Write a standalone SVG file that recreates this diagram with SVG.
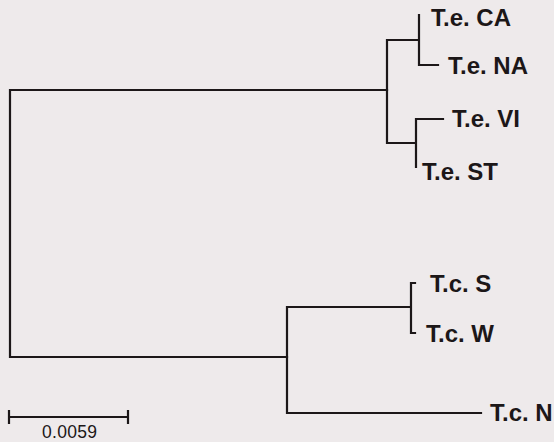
<svg xmlns="http://www.w3.org/2000/svg" width="554" height="442" viewBox="0 0 554 442">
<style>
.ln{fill:none;stroke:#1c1718;stroke-width:2.2;stroke-linecap:square}
.lb{font-family:"Liberation Sans",Arial,sans-serif;font-weight:bold;font-size:24px;fill:#1c1718}
.sc{font-family:"Liberation Sans",Arial,sans-serif;font-size:17.5px;fill:#1c1718}
</style>
<rect width="554" height="442" fill="#eeeaeb"/>
<g id="connectors" class="ln">
<path d="M10,90 V357 M10,90 H387 M10,357 H287"/>
<path d="M387,40 V143 M387,40 H419 M419,15 V65 H438 M387,143 H416 M416,119 V167 M416,119 H443"/>
<path d="M287,307 V413 M287,307 H411 M411,283 V333 M411,283 H415 M411,333 H415 M287,413 H481"/>
</g>
<g id="TeCA"><text class="lb" x="431" y="26">T.e. CA</text></g>
<g id="TeNA"><text class="lb" x="448" y="74">T.e. NA</text></g>
<g id="TeVI"><text class="lb" x="452" y="127">T.e. VI</text></g>
<g id="TeST"><text class="lb" x="422" y="180">T.e. ST</text></g>
<g id="TcS"><text class="lb" x="430" y="292">T.c. S</text></g>
<g id="TcW"><text class="lb" x="426" y="342">T.c. W</text></g>
<g id="TcN"><text class="lb" x="490" y="421">T.c. N</text></g>
<g id="scale">
<path class="ln" d="M9,417 H128 M9,411 V423 M128,411 V423"/>
<text class="sc" x="42" y="438" textLength="55">0.0059</text>
</g>
</svg>
